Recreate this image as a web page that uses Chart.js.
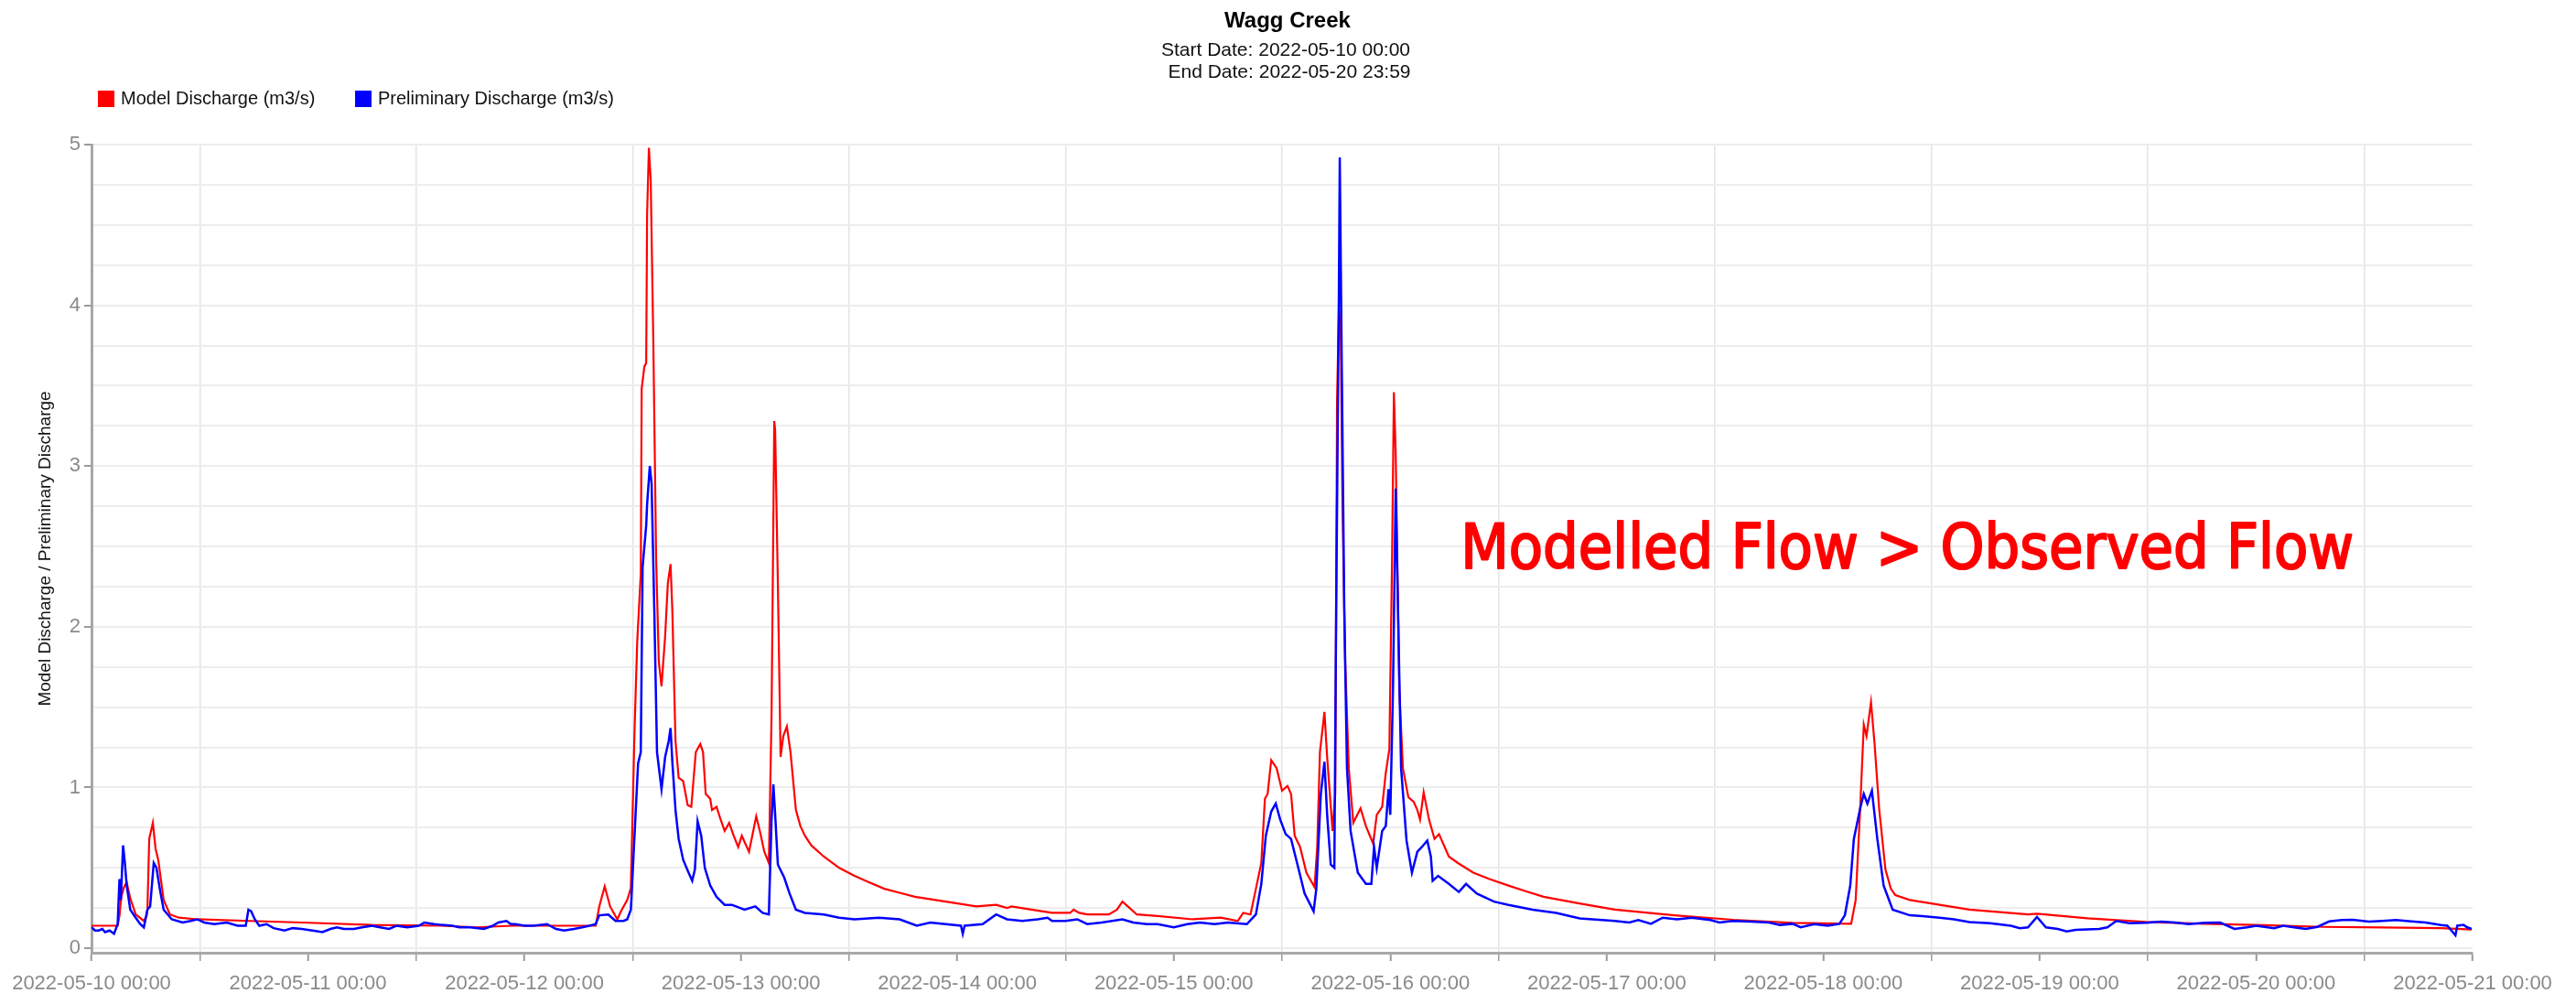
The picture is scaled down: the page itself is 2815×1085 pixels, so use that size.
<!DOCTYPE html>
<html>
<head>
<meta charset="utf-8">
<title>Wagg Creek</title>
<script src="https://cdn.jsdelivr.net/npm/chart.js@4.4.1/dist/chart.umd.min.js"></script>
<style>
  html, body { margin: 0; padding: 0; background: #fff; }
  canvas { display: block; }
</style>
</head>
<body>
<canvas id="flowChart" width="2815" height="1085"></canvas>
<script>
var stationName = 'Wagg Creek';
var periodLines = ['Start Date: 2022-05-10 00:00', 'End Date: 2022-05-20 23:59'];
var noteText = 'Modelled Flow > Observed Flow';

// x axis is hours since 2022-05-10 00:00
var dayLabels = ['2022-05-10 00:00', '2022-05-11 00:00', '2022-05-12 00:00', '2022-05-13 00:00',
  '2022-05-14 00:00', '2022-05-15 00:00', '2022-05-16 00:00', '2022-05-17 00:00',
  '2022-05-18 00:00', '2022-05-19 00:00', '2022-05-20 00:00', '2022-05-21 00:00'];
var xTicks = [0, 12, 24, 36, 48, 60, 72, 84, 96, 108, 120, 132, 144, 156, 168, 180,
  192, 204, 216, 228, 240, 252, 264];
var yTicks = [0, 0.25, 0.5, 0.75, 1, 1.25, 1.5, 1.75, 2, 2.25, 2.5, 2.75, 3, 3.25, 3.5,
  3.75, 4, 4.25, 4.5, 4.75, 5];

// Model Discharge (m3/s)
var modelHours = [
  0, 2.9, 3.1, 3.3, 3.6, 3.9, 4.3, 4.9, 5.8, 6.1, 6.2, 6.4, 6.8, 7.1, 7.4, 8.0, 8.7, 9.7, 11.7, 17.5, 23.3,
  31.1, 38.8, 42.7, 46.6, 55.9, 56.3, 56.9, 57.5, 58.3, 58.7, 59.4, 59.8, 60.2, 60.5, 60.9, 61.0, 61.3, 61.5, 61.6, 61.8, 62.0, 62.3, 62.6, 62.9,
  63.2, 63.6, 63.9, 64.2, 64.4, 64.75, 65.1, 65.6, 66.1, 66.5, 67.0, 67.5, 67.8, 68.1, 68.6, 68.8, 69.3, 69.7, 70.2, 70.7, 71.2, 71.7, 72.1, 72.5, 72.9, 73.3, 73.7, 74.1, 74.6, 75.1,
  75.4, 75.7, 75.8, 76.1, 76.4, 76.7, 77.1, 77.5, 78.1, 78.6, 79.1, 79.8, 81.2, 82.9, 84.6, 86.2, 87.9, 89.6, 91.3, 94.7, 98.1, 100.3, 101.5, 102.0, 104.2, 106.5, 108.5, 108.9, 109.5, 110.4, 112.8, 113.7, 114.3, 114.9, 115.9, 118.2, 122.1, 125.2, 127.1,
  127.7, 128.5, 129.1, 129.7, 130.1, 130.4, 130.8, 131.4, 132.0, 132.6, 133.0, 133.4, 134.0, 134.7, 135.6, 135.9, 136.2, 136.7, 137.0, 137.6, 137.9, 138.1, 138.3, 138.5, 138.7, 139.0, 139.4, 139.9, 140.7, 141.3, 142.1, 142.5, 143.1, 143.5, 143.9, 144.2, 144.4, 144.6, 145.0, 145.4, 146.0, 146.6, 147.0, 147.3, 147.7, 148.3, 148.9, 149.4,
  150.5, 151.5, 153.2, 155.0, 157.1, 159.0, 161.0, 164.8, 168.9, 175.5, 182.0, 188.6, 195.1, 195.6, 196.1, 196.5, 196.8, 197.3, 197.7, 198.2, 198.9, 199.5, 200.0, 201.6, 204.9, 208.2, 214.7, 215.7, 221.3, 227.8, 234.3, 240.9, 247.4, 254.0, 260.5, 263.9
];
var modelFlow = [
  0.14, 0.14, 0.20, 0.32, 0.38, 0.41, 0.31, 0.21, 0.17, 0.20, 0.24, 0.68, 0.78, 0.62, 0.55, 0.30, 0.21, 0.19, 0.18, 0.17, 0.16,
  0.145, 0.14, 0.13, 0.14, 0.14, 0.26, 0.385, 0.26, 0.18, 0.23, 0.30, 0.375, 1.34, 1.90, 2.33, 3.48, 3.62, 3.64, 4.56, 4.98, 4.78, 3.74, 2.43, 1.78,
  1.63, 1.94, 2.27, 2.39, 2.10, 1.29, 1.06, 1.04, 0.89, 0.88, 1.22, 1.27, 1.22, 0.96, 0.93, 0.86, 0.88, 0.81, 0.73, 0.78, 0.70, 0.63, 0.70, 0.65, 0.60, 0.71, 0.82, 0.73, 0.60, 0.53,
  1.45, 3.28, 3.22, 2.27, 1.19, 1.32, 1.38, 1.22, 0.86, 0.76, 0.70, 0.64, 0.57, 0.50, 0.45, 0.41, 0.37, 0.345, 0.32, 0.29, 0.26, 0.27, 0.25, 0.26, 0.24, 0.22, 0.22, 0.24, 0.22, 0.21, 0.21, 0.24, 0.29, 0.26, 0.21, 0.20, 0.18, 0.19, 0.17,
  0.22, 0.21, 0.37, 0.53, 0.93, 0.96, 1.17, 1.12, 0.98, 1.01, 0.96, 0.70, 0.63, 0.47, 0.38, 0.63, 1.22, 1.47, 1.19, 0.73, 0.96, 3.41, 3.97, 3.87, 2.76, 1.78, 1.12, 0.78, 0.87, 0.76, 0.65, 0.83, 0.88, 1.09, 1.24, 2.43, 3.46, 3.08, 1.61, 1.12, 0.94, 0.91, 0.86, 0.80, 0.97, 0.80, 0.68, 0.71,
  0.57, 0.53, 0.47, 0.43, 0.39, 0.355, 0.32, 0.28, 0.24, 0.205, 0.177, 0.158, 0.152, 0.30, 0.87, 1.39, 1.32, 1.53, 1.27, 0.87, 0.49, 0.37, 0.33, 0.30, 0.27, 0.24, 0.21, 0.215, 0.186, 0.163, 0.152, 0.144, 0.133, 0.129, 0.125, 0.116
];

// Preliminary Discharge (m3/s)
var obsHours = [
  0, 0.4, 0.8, 1.2, 1.5, 2.0, 2.5, 2.9, 3.1, 3.25, 3.5, 3.7, 3.9, 4.3, 4.9, 5.4, 5.8, 6.2, 6.5, 6.9, 7.2, 7.6, 8.0, 8.9, 10.1, 11.0, 11.7, 12.5, 13.6, 15.0, 16.2, 17.1, 17.4, 17.7, 18.1, 18.6, 19.4, 20.2, 21.4, 22.3, 23.3,
  24.5, 25.6, 26.5, 27.2, 28.0, 29.1, 30.0, 31.1, 32.0, 33.0, 33.8, 35.0, 36.3, 36.9, 38.0, 38.8, 40.0, 40.8, 42.0, 43.5, 44.5, 45.1, 46.0, 46.5, 47.0, 48.0, 49.0, 50.5, 51.5, 52.4, 53.5, 54.4, 55.2, 55.9, 56.3, 57.3, 58.1, 59.0, 59.4, 59.8, 60.1, 60.6,
  60.9, 61.1, 61.5, 61.6, 61.9, 62.1, 62.4, 62.7, 63.2, 63.6, 64.0, 64.2, 64.4, 64.75, 65.1, 65.6, 66.2, 66.6, 66.9, 67.2, 67.6, 68.0, 68.6, 69.3, 70.2, 71.0, 72.4, 73.6, 74.4, 75.1, 75.4, 75.6, 75.8, 76.1, 76.8, 77.4, 78.1, 79.1, 81.2, 82.9, 84.6, 87.3, 89.6, 91.5, 93.0, 94.7, 96.4, 96.6, 96.8, 98.8, 100.3, 101.5, 103.2, 104.9, 106.0,
  106.5, 108.0, 109.3, 110.4, 112.0, 114.3, 115.5, 117.0, 118.2, 120.0, 121.5, 122.9, 124.5, 126.0, 128.1, 129.1, 129.7, 130.2, 130.8, 131.3, 131.8, 132.4, 133.0, 133.8, 134.5, 135.5, 135.8, 136.3, 136.7, 137.0, 137.4, 137.8, 138.0, 138.3, 138.4, 138.6, 138.9, 139.2, 139.6, 140.4, 141.3, 141.9, 142.2, 142.5, 143.1, 143.5, 143.8, 144.0, 144.3, 144.6, 144.8, 145.2, 145.8, 146.4, 147.0, 147.5, 148.1, 148.5, 148.7, 149.3,
  150.5, 151.6, 152.4, 153.6, 155.5, 157.1, 159.8, 162.4, 165.0, 168.9, 170.5, 171.5, 172.9, 174.2, 175.8, 177.4, 179.5, 180.5, 182.0, 184.0, 186.0, 187.2, 188.6, 189.5, 191.0, 192.5, 193.8, 194.4, 195.0, 195.4,
  196.1, 196.5, 196.9, 197.4, 198.0, 198.7, 199.7, 201.6, 203.0, 204.9, 206.5, 208.2, 210.5, 212.8, 213.8, 214.7, 215.7, 216.7, 218.0, 219.0, 220.0, 222.6, 223.5, 224.5, 226.0, 227.8, 229.5, 231.0, 232.5, 234.3,
  236.0, 237.6, 239.0, 240.0, 242.0, 243.0, 244.2, 245.5, 246.8, 248.1, 249.5, 250.7, 252.5, 254.0, 255.5, 257.2, 258.8, 260.5, 261.2, 262.1, 262.3, 263.0, 263.4, 263.9
];
var obsFlow = [
  0.13, 0.11, 0.11, 0.12, 0.10, 0.11, 0.09, 0.15, 0.43, 0.30, 0.64, 0.53, 0.39, 0.24, 0.19, 0.15, 0.13, 0.24, 0.26, 0.53, 0.50, 0.36, 0.24, 0.18, 0.16, 0.17, 0.18, 0.16, 0.15, 0.16, 0.14, 0.14, 0.24, 0.23, 0.18, 0.14, 0.15, 0.125, 0.11, 0.125, 0.12,
  0.11, 0.10, 0.12, 0.13, 0.12, 0.12, 0.13, 0.14, 0.13, 0.12, 0.14, 0.13, 0.14, 0.16, 0.15, 0.145, 0.14, 0.13, 0.13, 0.12, 0.14, 0.16, 0.17, 0.15, 0.15, 0.14, 0.14, 0.15, 0.12, 0.11, 0.12, 0.13, 0.14, 0.15, 0.205, 0.21, 0.17, 0.17, 0.18, 0.24, 0.58, 1.15,
  1.22, 2.37, 2.63, 2.76, 3.00, 2.89, 2.10, 1.22, 0.99, 1.19, 1.29, 1.37, 1.16, 0.86, 0.68, 0.55, 0.47, 0.42, 0.49, 0.79, 0.70, 0.50, 0.39, 0.32, 0.27, 0.27, 0.24, 0.26, 0.22, 0.21, 0.80, 1.02, 0.83, 0.52, 0.44, 0.34, 0.24, 0.22, 0.21, 0.19, 0.18, 0.19, 0.18, 0.14, 0.16, 0.15, 0.14, 0.09, 0.14, 0.15, 0.21, 0.18, 0.17, 0.18, 0.19,
  0.17, 0.17, 0.18, 0.15, 0.16, 0.18, 0.16, 0.15, 0.15, 0.13, 0.15, 0.16, 0.15, 0.16, 0.15, 0.21, 0.40, 0.70, 0.85, 0.90, 0.80, 0.71, 0.68, 0.50, 0.34, 0.23, 0.37, 0.96, 1.16, 0.83, 0.52, 0.50, 2.10, 4.07, 4.92, 3.74, 2.10, 1.12, 0.73, 0.47, 0.40, 0.40, 0.63, 0.50, 0.73, 0.76, 0.99, 0.83, 1.61, 2.86, 2.27, 1.12, 0.67, 0.47, 0.60, 0.63, 0.67, 0.57, 0.42, 0.45,
  0.40, 0.35, 0.40, 0.34, 0.29, 0.27, 0.24, 0.22, 0.186, 0.17, 0.16, 0.175, 0.152, 0.19, 0.18, 0.19, 0.175, 0.16, 0.17, 0.165, 0.16, 0.145, 0.152, 0.13, 0.15, 0.14, 0.152, 0.205, 0.39, 0.68,
  0.87, 0.96, 0.90, 0.98, 0.68, 0.39, 0.24, 0.205, 0.20, 0.19, 0.18, 0.163, 0.155, 0.14, 0.125, 0.13, 0.195, 0.13, 0.12, 0.105, 0.114, 0.12, 0.13, 0.17, 0.155, 0.158, 0.165, 0.16, 0.15, 0.158,
  0.16, 0.12, 0.13, 0.14, 0.125, 0.14, 0.13, 0.12, 0.133, 0.167, 0.175, 0.177, 0.165, 0.17, 0.175, 0.167, 0.16, 0.144, 0.14, 0.08, 0.14, 0.145, 0.13, 0.12
];

var FONT = "'Liberation Sans', Arial, Helvetica, sans-serif";

function toPoints(hours, values) {
  var pts = [];
  var n = Math.min(hours.length, values.length);
  for (var i = 0; i < n; i++) {
    pts.push({x: hours[i], y: values[i]});
  }
  return pts;
}

// title block and legend above the plot
var headerPlugin = {
  id: 'header',
  afterDraw: function(chart) {
    var ctx = chart.ctx;
    ctx.save();
    ctx.fillStyle = '#000';
    ctx.textAlign = 'center';
    ctx.textBaseline = 'alphabetic';
    ctx.font = 'bold 24px ' + FONT;
    ctx.fillText(stationName, 1407, 30);
    ctx.font = '21px ' + FONT;
    ctx.fillStyle = '#111';
    ctx.fillText(periodLines[0], 1405, 61);
    ctx.fillText(periodLines[1], 1409, 85);

    // legend
    var legendX = [107, 388];
    ctx.textAlign = 'left';
    ctx.textBaseline = 'middle';
    ctx.font = '20px ' + FONT;
    chart.data.datasets.forEach(function(ds, i) {
      ctx.fillStyle = ds.borderColor;
      ctx.fillRect(legendX[i], 99, 18, 18);
      ctx.fillStyle = '#111';
      ctx.fillText(ds.label, legendX[i] + 25, 108);
    });
    ctx.restore();
  }
};

// red note over the plot
var notePlugin = {
  id: 'note',
  afterDatasetsDraw: function(chart) {
    var ctx = chart.ctx;
    var x = chart.scales.x.getPixelForValue(151.8);
    var y = chart.scales.y.getPixelForValue(2.363);
    ctx.save();
    ctx.font = "67px 'DejaVu Sans Condensed', 'DejaVu Sans', sans-serif";
    var w = ctx.measureText(noteText).width;
    ctx.translate(x, y);
    ctx.scale(976 / w, 1);
    ctx.fillStyle = '#ff0000';
    ctx.strokeStyle = '#ff0000';
    ctx.lineWidth = 2;
    ctx.lineJoin = 'round';
    ctx.textBaseline = 'alphabetic';
    ctx.fillText(noteText, 0, 0);
    ctx.strokeText(noteText, 0, 0);
    ctx.restore();
  }
};

var chart = new Chart(document.getElementById('flowChart'), {
  type: 'line',
  data: {
    datasets: [{
      label: 'Model Discharge (m3/s)',
      data: toPoints(modelHours, modelFlow),
      borderColor: '#ff0000',
      backgroundColor: '#ff0000',
      borderWidth: 2.2,
      pointRadius: 0,
      tension: 0,
      order: 2
    }, {
      label: 'Preliminary Discharge (m3/s)',
      data: toPoints(obsHours, obsFlow),
      borderColor: '#0000ff',
      backgroundColor: '#0000ff',
      borderWidth: 2.5,
      pointRadius: 0,
      tension: 0,
      order: 1
    }]
  },
  options: {
    responsive: false,
    devicePixelRatio: 1,
    animation: false,
    parsing: false,
    layout: {padding: {top: 158, left: 0, right: 113, bottom: 0}},
    plugins: {
      legend: {display: false},
      title: {display: false},
      tooltip: {enabled: false}
    },
    scales: {
      x: {
        type: 'linear',
        min: 0,
        max: 264,
        afterBuildTicks: function(scale) {
          scale.ticks = xTicks.map(function(v) { return {value: v}; });
        },
        afterFit: function(scale) { scale.height = 44; },
        border: {display: true, color: '#a8a8a8', width: 3},
        grid: {
          color: function(c) {
            return c.tick && c.tick.value % 24 === 12 ? '#e4e4e4' : 'rgba(0,0,0,0)';
          },
          lineWidth: 1.5,
          tickColor: '#9a9a9a',
          tickLength: 9,
          tickWidth: function(c) {
            return c.tick && c.tick.value % 24 === 0 ? 2 : 1.5;
          }
        },
        ticks: {
          autoSkip: false,
          maxRotation: 0,
          padding: 12,
          color: '#8a8a8a',
          font: {family: FONT, size: 22},
          callback: function(value) {
            return value % 24 === 0 ? dayLabels[value / 24] : '';
          }
        }
      },
      y: {
        min: -0.028,
        max: 5,
        afterBuildTicks: function(scale) {
          scale.ticks = yTicks.map(function(v) { return {value: v}; });
        },
        afterFit: function(scale) { scale.width = 100; },
        border: {display: true, color: '#a8a8a8', width: 3},
        grid: {
          color: '#ededed',
          lineWidth: 2,
          tickLength: 8,
          tickColor: function(c) {
            return c.tick && Number.isInteger(c.tick.value) ? '#9a9a9a' : 'rgba(0,0,0,0)';
          }
        },
        ticks: {
          padding: 4,
          color: '#8a8a8a',
          font: {family: FONT, size: 22},
          callback: function(value) {
            return Number.isInteger(value) ? String(value) : '';
          }
        },
        title: {
          display: true,
          text: 'Model Discharge / Preliminary Discharge',
          color: '#111',
          font: {family: FONT, size: 19},
          padding: {top: 38, bottom: 0}
        }
      }
    }
  },
  plugins: [headerPlugin, notePlugin]
});
</script>
</body>
</html>
